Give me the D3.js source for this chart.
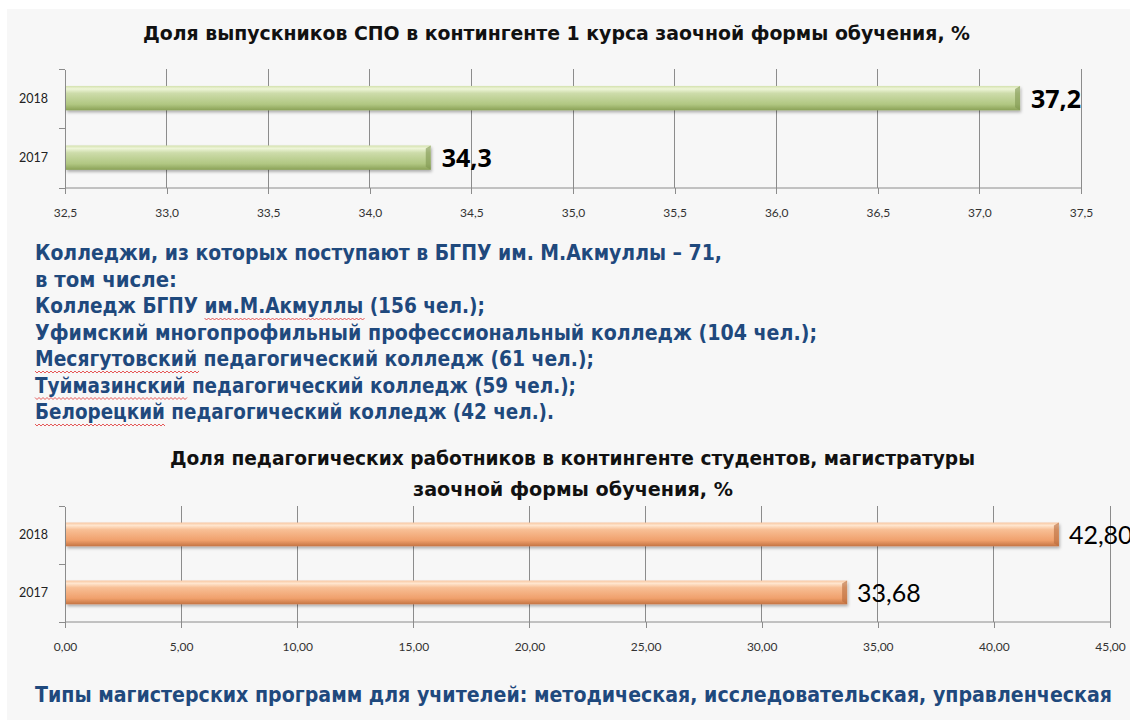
<!DOCTYPE html>
<html>
<head>
<meta charset="utf-8">
<script src="https://cdn.jsdelivr.net/npm/d3@7"></script>
<style>
  body { margin: 0; background: #fff; }
  svg { display: block; }
</style>
</head>
<body>
<svg id="chart" width="1130" height="720"></svg>
<script>
// data
const years = ["2018", "2017"];
const spoShare = [37.2, 34.3];
const spoTicks = [32.5, 33.0, 33.5, 34.0, 34.5, 35.0, 35.5, 36.0, 36.5, 37.0, 37.5];
const spoTitle = "Доля выпускников  СПО в контингенте  1 курса заочной формы  обучения, %";

const pedShare = [42.80, 33.68];
const pedTicks = [0, 5, 10, 15, 20, 25, 30, 35, 40, 45];
const pedTitle = ["Доля педагогических  работников  в контингенте  студентов,  магистратуры",
                  "заочной формы  обучения, %"];

const collegeLines = [
  "Колледжи, из которых поступают в БГПУ им. М.Акмуллы – 71,",
  "в том числе:",
  "Колледж БГПУ им.М.Акмуллы (156 чел.);",
  "Уфимский многопрофильный профессиональный колледж (104 чел.);",
  "Месягутовский педагогический колледж  (61 чел.);",
  "Туймазинский педагогический колледж (59 чел.);",
  "Белорецкий педагогический колледж (42 чел.)."
];
const collegeWidths = [687, 142, 450, 782, 559, 541, 519];
// words marked by spell check
const misspelled = [null, null, "им.М.Акмуллы", null, "Месягутовский", "Туймазинский", "Белорецкий"];
const footer = "Типы магистерских программ для учителей: методическая, исследовательская, управленческая";

const svg = d3.select("#chart");
const blue = "#1f497d";
const narrow = "'Liberation Sans Narrow', 'DejaVu Sans Condensed', 'Liberation Sans', sans-serif";
const tickFont = "Lato, 'Open Sans', sans-serif";

// background panel
svg.append("rect").attr("x", 7).attr("y", 9).attr("width", 1123).attr("height", 711).attr("fill", "#f7f7f7");

// gradients and shadow
const defs = svg.append("defs");
function barGradient(id, stops) {
  const g = defs.append("linearGradient").attr("id", id)
      .attr("x1", 0).attr("y1", 0).attr("x2", 0).attr("y2", 1);
  stops.forEach(s => g.append("stop").attr("offset", s[0]).attr("stop-color", s[1]));
}
barGradient("green", [[0, "#d3e1ad"], [0.12, "#eef5d8"], [0.3, "#cddcaa"], [0.75, "#b1c782"], [1, "#8aa157"]]);
barGradient("orange", [[0, "#f8c6a0"], [0.12, "#ffe6cf"], [0.3, "#f8bf95"], [0.75, "#f0a06c"], [1, "#c47443"]]);
const sh = defs.append("filter").attr("id", "shadow").attr("x", "-5%").attr("y", "-30%").attr("width", "110%").attr("height", "170%");
sh.append("feDropShadow").attr("dx", 1).attr("dy", 2).attr("stdDeviation", 1.5).attr("flood-color", "#000").attr("flood-opacity", 0.3);

function drawBars(cfg) {
  const x = d3.scaleLinear().domain(cfg.domain).range([65, cfg.right]);
  const y = d3.scaleBand().domain(years).range([cfg.top, cfg.bottom]).padding(0);
  const g = svg.append("g");

  // gridlines
  g.append("g").selectAll("line").data(cfg.ticks.slice(1)).join("line")
      .attr("x1", d => x(d)).attr("x2", d => x(d))
      .attr("y1", cfg.top).attr("y2", cfg.bottom)
      .attr("stroke", "#8c8c8c").attr("stroke-width", 1).attr("shape-rendering", "crispEdges");

  // x axis
  const xAxis = d3.axisBottom(x).tickValues(cfg.ticks).tickSize(6).tickPadding(14)
      .tickFormat(d => d3.format(cfg.fmt)(d).replace(".", ","));
  const gx = g.append("g").attr("transform", `translate(0,${cfg.bottom})`).call(xAxis);
  gx.select(".domain").attr("stroke", "#8c8c8c").attr("d", `M65,0H${cfg.right}`);
  gx.selectAll(".tick line").attr("stroke", "#8c8c8c").attr("shape-rendering", "crispEdges");
  gx.selectAll(".tick text").attr("font-family", tickFont).attr("font-size", 12).attr("fill", "#333");

  // y axis
  const yAxis = d3.axisLeft(y).tickSize(0).tickPadding(17);
  const gy = g.append("g").attr("transform", "translate(65,0)").call(yAxis);
  gy.select(".domain").attr("stroke", "#8c8c8c").attr("shape-rendering", "crispEdges");
  gy.selectAll(".tick text").attr("font-family", tickFont).attr("font-size", 12.5).attr("fill", "#222");
  // category boundary ticks
  gy.append("g").selectAll("line").data([cfg.top, (cfg.top + cfg.bottom) / 2, cfg.bottom]).join("line")
      .attr("x1", -6).attr("x2", 0).attr("y1", d => d).attr("y2", d => d)
      .attr("stroke", "#8c8c8c").attr("shape-rendering", "crispEdges");

  const bh = y.bandwidth() * 0.41;
  const off = y.bandwidth() * 0.285;
  g.append("g").selectAll("rect").data(cfg.values).join("rect")
      .attr("x", x(cfg.domain[0]) + 1)
      .attr("y", (d, i) => y(years[i]) + off)
      .attr("width", d => x(d) - x(cfg.domain[0]) - 1)
      .attr("height", bh)
      .attr("fill", `url(#${cfg.grad})`)
      .attr("filter", "url(#shadow)");
  // bevel at the bar end
  g.append("g").selectAll("path").data(cfg.values).join("path")
      .attr("d", (d, i) => {
        const x1 = x(d), y0 = y(years[i]) + off;
        return `M${x1 - 5},${y0 + 3}L${x1},${y0}V${y0 + bh}L${x1 - 5},${y0 + bh - 3}Z`;
      })
      .attr("fill", cfg.bevel).attr("opacity", 0.6);

  // value labels
  g.append("g").selectAll("text").data(cfg.values).join("text")
      .attr("x", d => x(d) + cfg.labelGap)
      .attr("y", (d, i) => y(years[i]) + off + bh / 2 + 1)
      .attr("dy", "0.35em")
      .attr("font-family", cfg.labelFont)
      .attr("font-size", 25)
      .attr("font-weight", cfg.labelWeight)
      .attr("fill", "#000")
      .text(d => d3.format(cfg.labelFmt)(d).replace(".", ","));
}

drawBars({domain: [32.5, 37.5], right: 1081, top: 69, bottom: 188, ticks: spoTicks, fmt: ".1f",
          values: spoShare, grad: "green", bevel: "#7f9650", labelGap: 11, labelWeight: 700,
          labelFont: "'Open Sans', 'Liberation Sans', sans-serif", labelFmt: ".1f"});
drawBars({domain: [0, 45], right: 1110, top: 506, bottom: 622, ticks: pedTicks, fmt: ".2f",
          values: pedShare, grad: "orange", bevel: "#b86a3c", labelGap: 10, labelWeight: 400,
          labelFont: "Lato, 'Open Sans', sans-serif", labelFmt: ".2f"});

// titles
svg.append("text").attr("x", 143).attr("y", 40)
    .attr("font-family", narrow).attr("font-weight", "bold").attr("font-size", 19)
    .attr("textLength", 827).attr("lengthAdjust", "spacingAndGlyphs")
    .attr("fill", "#111").text(spoTitle);
svg.append("g").selectAll("text").data(pedTitle).join("text")
    .attr("x", (d, i) => [170, 413][i]).attr("y", (d, i) => 465 + i * 31)
    .attr("font-family", narrow).attr("font-weight", "bold").attr("font-size", 19)
    .attr("textLength", (d, i) => [805, 320][i]).attr("lengthAdjust", "spacingAndGlyphs")
    .attr("fill", "#111").text(d => d);

// college list
const lines = svg.append("g").selectAll("text").data(collegeLines).join("text")
    .attr("x", 35).attr("y", (d, i) => 260 + i * 26.5)
    .attr("font-family", narrow).attr("font-weight", "bold").attr("font-size", 21)
    .attr("textLength", (d, i) => collegeWidths[i]).attr("lengthAdjust", "spacingAndGlyphs")
    .attr("fill", blue).text(d => d);

// spell-check squiggles
lines.each(function(d, i) {
  const w = misspelled[i];
  if (!w) return;
  const start = d.indexOf(w);
  const x0 = this.getStartPositionOfChar(start).x;
  const x1 = this.getEndPositionOfChar(start + w.length - 1).x;
  const yb = 260 + i * 26.5 + 5;
  let p = `M${x0},${yb}`;
  for (let xx = x0, k = 0; xx < x1; xx += 2, k++) p += `L${xx + 2},${yb + (k % 2 ? 0 : 2)}`;
  svg.append("path").attr("d", p).attr("fill", "none").attr("stroke", "#e03030").attr("stroke-width", 0.8);
});

svg.append("text").attr("x", 35).attr("y", 702)
    .attr("font-family", narrow).attr("font-weight", "bold").attr("font-size", 21)
    .attr("textLength", 1077).attr("lengthAdjust", "spacingAndGlyphs")
    .attr("fill", blue).text(footer);
</script>
</body>
</html>
